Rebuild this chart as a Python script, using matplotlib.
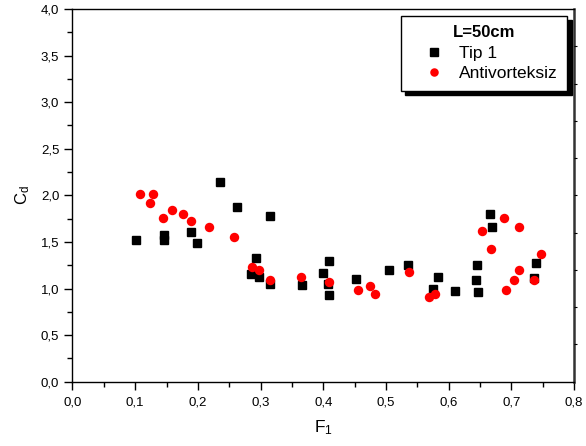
import matplotlib
matplotlib.use("Agg")
import matplotlib.pyplot as plt
import numpy as np
from matplotlib.ticker import MultipleLocator, FuncFormatter

plt.rcParams['font.family'] = ['Liberation Sans', 'DejaVu Sans']
plt.rcParams['mathtext.default'] = 'regular'

# Tip 1 measurements (Froude number vs. discharge coefficient)
tip1_f = [0.101, 0.146, 0.146, 0.189, 0.198, 0.235, 0.262, 0.315, 0.293, 0.284,
          0.298, 0.315, 0.366, 0.399, 0.409, 0.408, 0.409, 0.453, 0.505, 0.536,
          0.575, 0.583, 0.610, 0.645, 0.643, 0.647, 0.666, 0.670, 0.739, 0.736]
tip1_cd = [1.52, 1.57, 1.52, 1.61, 1.485, 2.14, 1.88, 1.775, 1.33, 1.155,
           1.125, 1.046, 1.04, 1.165, 1.30, 1.05, 0.93, 1.10, 1.195, 1.257,
           0.996, 1.12, 0.968, 1.25, 1.092, 0.96, 1.80, 1.665, 1.274, 1.11]

# Antivorteksiz measurements
anti_f = [0.107, 0.129, 0.124, 0.158, 0.145, 0.177, 0.189, 0.217, 0.257, 0.286,
          0.298, 0.315, 0.364, 0.409, 0.456, 0.475, 0.483, 0.537, 0.569, 0.578,
          0.653, 0.668, 0.688, 0.713, 0.692, 0.705, 0.712, 0.737, 0.747]
anti_cd = [2.017, 2.017, 1.917, 1.846, 1.753, 1.803, 1.724, 1.664, 1.549, 1.228,
           1.199, 1.092, 1.121, 1.071, 0.982, 1.032, 0.942, 1.182, 0.910, 0.936,
           1.621, 1.421, 1.756, 1.660, 0.989, 1.096, 1.203, 1.092, 1.367]

fig = plt.figure(figsize=(5.86, 4.46), dpi=100)
ax = fig.add_axes([0.1237, 0.1442, 0.9795 - 0.1237, 0.9798 - 0.1442])

ax.plot(tip1_f, tip1_cd, linestyle='none', marker='s', markersize=5.8,
        color='black', label='Tip 1', zorder=3)
ax.plot(anti_f, anti_cd, linestyle='none', marker='o', markersize=6.8,
        color='#ff0000', markeredgewidth=0, label='Antivorteksiz', zorder=4)

ax.set_xlim(0, 0.8)
ax.set_ylim(0, 4.0)

comma = FuncFormatter(lambda v, p: f"{v:.1f}".replace('.', ','))
ax.xaxis.set_major_locator(MultipleLocator(0.1))
ax.xaxis.set_minor_locator(MultipleLocator(0.05))
ax.yaxis.set_major_locator(MultipleLocator(0.5))
ax.yaxis.set_minor_locator(MultipleLocator(0.25))
ax.xaxis.set_major_formatter(comma)
ax.yaxis.set_major_formatter(comma)

ax.tick_params(which='major', direction='out', length=6, width=1.0,
               labelsize=9.5, top=False, right=False, pad=3.5)
ax.tick_params(axis='x', which='major', pad=5)
ax.tick_params(which='minor', direction='out', length=3.5, width=1.0,
               top=False, right=False)

for s in ax.spines.values():
    s.set_linewidth(1.0)
ax.spines['right'].set_linewidth(1.8)
ax.spines['right'].set_color('#333333')

# small marks on the right-hand frame
axr = ax.twinx()
axr.set_ylim(0, 4.0)
axr.set_yticks(np.arange(0.4, 3.7, 0.4))
axr.tick_params(axis='y', direction='out', length=2.5, width=0.8,
                labelright=False)
for s in axr.spines.values():
    s.set_visible(False)

ax.set_xlabel('F$_1$', fontsize=12.5, labelpad=7)
ax.set_ylabel('C$_d$', fontsize=12, labelpad=6)

leg = ax.legend(title='L=50cm', loc='upper right', bbox_to_anchor=(0.986, 0.982),
                borderaxespad=0,
                fontsize=12.5, title_fontproperties={'weight': 'bold', 'size': 12},
                frameon=True, fancybox=False,
                shadow={'color': 'black', 'alpha': 1.0, 'ox': 3.3, 'oy': -3.3},
                edgecolor='black', framealpha=1.0, handletextpad=0.05,
                borderpad=0.55, labelspacing=0.3, handlelength=2.75,
                markerscale=0.9)
leg.get_frame().set_linewidth(1.0)
leg.set_zorder(10)

fig.savefig('out.png', dpi=100)
